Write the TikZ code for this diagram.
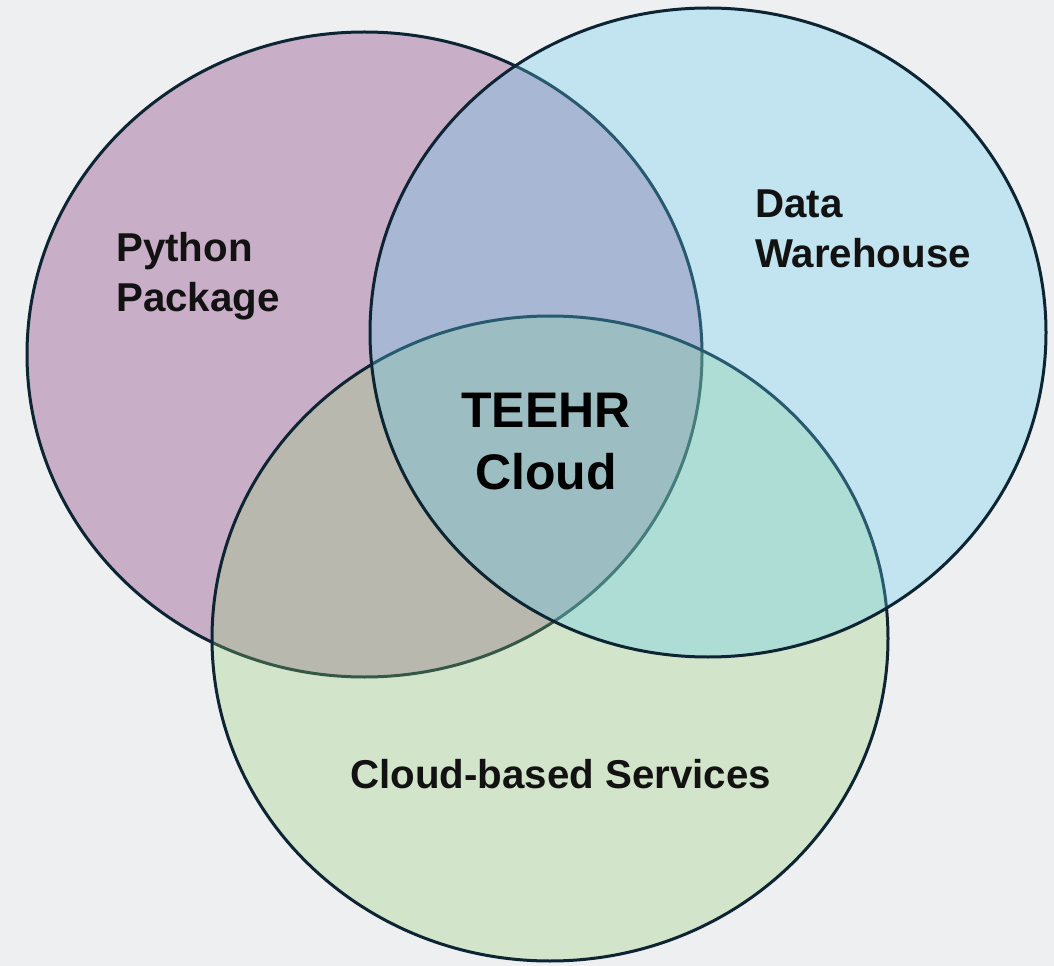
\documentclass[tikz,border=0pt]{standalone}
\usepackage{fontspec}
\setmainfont{Liberation Sans}
\definecolor{bgc}{RGB}{238,239,241}
\definecolor{pinkc}{RGB}{201,174,200}
\definecolor{bluec}{RGB}{100,205,238}
\definecolor{greenc}{RGB}{148,209,114}
\definecolor{edgec}{RGB}{13,36,51}
\tikzset{
  vset/.style={draw=edgec, line width=2.25pt},
  lbl/.style={inner sep=0pt, align=left, text=black!93,
    font=\bfseries\fontsize{30.2}{37.5}\selectfont},
  bigl/.style={inner sep=0pt, align=center, text=black,
    font=\bfseries\fontsize{37.5}{46.5}\selectfont}
}
\begin{document}
\begin{tikzpicture}[x=0.75pt,y=-0.75pt]
\fill[bgc] (0,0) rectangle (1054,966);
\useasboundingbox (0,0) rectangle (1054,966);
% pink (bottom layer)
\path[vset, fill=pinkc] (364.5,354.5) ellipse [x radius=337.5, y radius=322.5];
% green (middle layer)
\path[vset, fill=greenc, fill opacity=0.3] (550,638.5) ellipse [x radius=338, y radius=322.5];
% blue (top layer)
\path[vset, fill=bluec, fill opacity=0.32] (708,332.5) ellipse [x radius=338, y radius=324.5];
% labels (base anchor = baseline of the last line)
\node[lbl, anchor=base west] (py) at (116,312) {Python\\Package};
\node[lbl, anchor=base west] (dw) at (755,268) {Data\\Warehouse};
\node[lbl, anchor=base west] (cs) at (350,788) {Cloud-based Services};
\node[bigl, anchor=base] (tc) at (546,489) {TEEHR\\Cloud};
\end{tikzpicture}
\end{document}
